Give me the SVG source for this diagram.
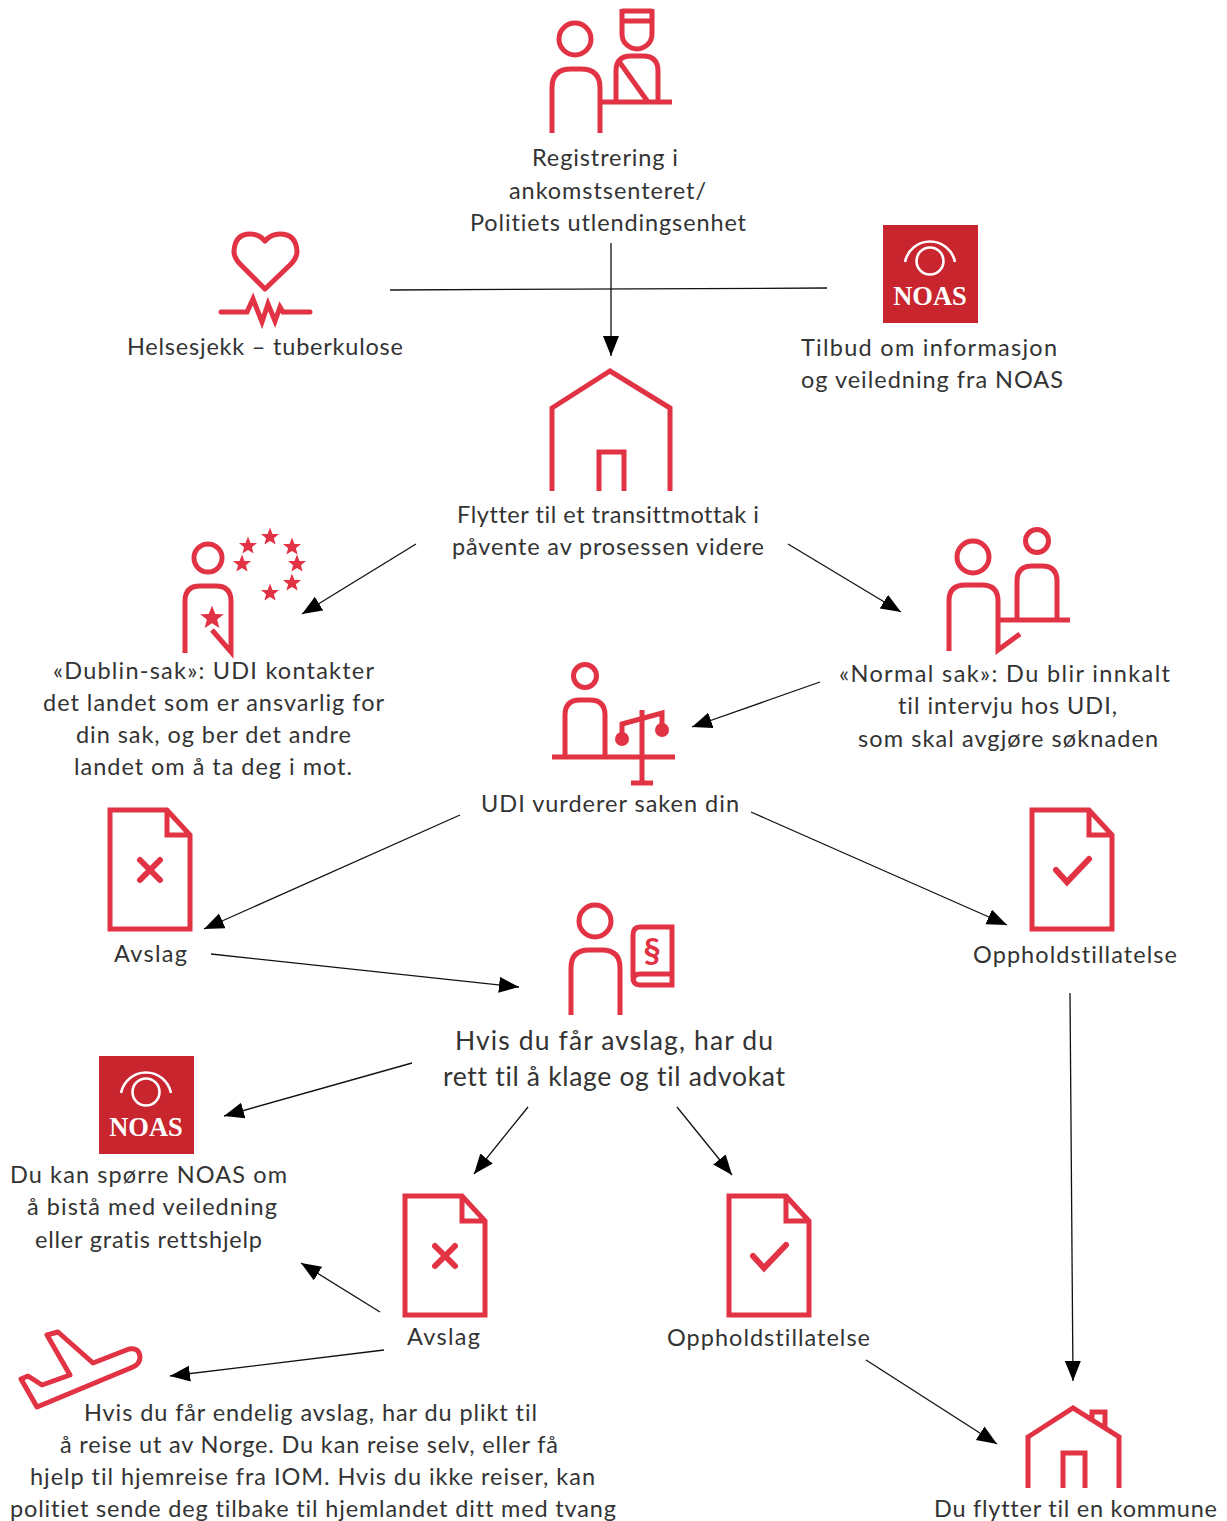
<svg xmlns="http://www.w3.org/2000/svg" width="1227" height="1521" viewBox="0 0 1227 1521">
<style>
text{font-family:Lato,"Open Sans",sans-serif;font-size:23.500px;fill:#333;font-variant-ligatures:none}
.big{font-size:26.500px}
.i{fill:none;stroke:#e23345;stroke-width:5}
.m{stroke-width:6;stroke-linecap:round}
.f{fill:#e23345}
.c{fill:none;stroke:#111;stroke-width:1.300;marker-end:url(#a)}
.noas{fill:#c8252f}
.na{fill:none;stroke:#fff;stroke-width:2.600}
.nt{font-family:"Liberation Serif",serif;font-weight:700;font-size:26.500px;fill:#fff;text-anchor:middle}
</style>
<defs>
<marker id="a" markerUnits="userSpaceOnUse" markerWidth="22" markerHeight="18" refX="20" refY="8" orient="auto"><path d="M0 0L20 8L0 16z" fill="#000"/></marker>
<polygon id="s" points="0,-10 2.600,-3.200 9.500,-3.100 4.100,1.200 5.900,8 0,4.100 -5.900,8 -4.100,1.200 -9.500,-3.100 -2.600,-3.200"/>
<g id="noas"><rect x="883" y="225" width="95" height="98" class="noas"/><circle cx="930" cy="261" r="13.500" class="na"/><path d="M905 262A25.500 25.500 0 0 1 955 262" class="na"/><text x="930" y="305" class="nt">NOAS</text></g>
<g id="dx"><path d="M110 810H167L190 835V929H110Z M167 810V835H190" class="i"/><path d="M140 860L160 880M160 860L140 880" class="i m"/></g>
<g id="dc"><path d="M1032 810H1089L1112 835V929H1032Z M1089 810V835H1112" class="i"/><path d="M1056 870L1067 882L1089 859" class="i m"/></g>
</defs>
<g id="connectors">
<path d="M390 290L827 288" fill="none" stroke="#111" stroke-width="1.300"/>
<path class="c" d="M611 243V356"/>
<path class="c" d="M416 544L302 614"/>
<path class="c" d="M788 544L901 612"/>
<path class="c" d="M820 682L692 727"/>
<path class="c" d="M460 815L204 929"/>
<path class="c" d="M751 812L1007 925"/>
<path class="c" d="M211 954L519 987"/>
<path class="c" d="M1070 993L1073 1381"/>
<path class="c" d="M412 1063L224 1116"/>
<path class="c" d="M528 1107L474 1174"/>
<path class="c" d="M677 1107L732 1175"/>
<path class="c" d="M380 1312L301 1263"/>
<path class="c" d="M384 1350L170 1376"/>
<path class="c" d="M866 1360L997 1444"/>
</g>
<g id="registrering">
<circle cx="575" cy="39" r="16" class="i"/>
<path d="M552 133V88Q552 69 571 69H581Q600 69 600 88V133" class="i"/>
<path d="M622 9V34A15 15 0 0 0 652 34V9M622 11H652M622 21H652" class="i"/>
<path d="M616 102V71Q616 56 631 56H643Q658 56 658 71V102M600 102H672M618 60L648 102" class="i"/>
<text x="532" y="166" textLength="146">Registrering i</text>
<text x="509" y="199" textLength="197">ankomstsenteret/</text>
<text x="470" y="231" textLength="276">Politiets utlendingsenhet</text>
</g>
<g id="helsesjekk">
<path d="M265 289L240 264Q234 258 234 251Q235 234 250 234Q259 234 265 241Q271 234 280 234Q296 234 297 251Q297 258 291 264Z" class="i" stroke-linejoin="round"/>
<path d="M221 312H247L253 299L262 322L268 304L275 321L280 307L283 312H310" class="i" stroke-linecap="round"/>
<text x="127" y="355" textLength="276">Helsesjekk – tuberkulose</text>
</g>
<g id="noas1">
<use href="#noas"/>
<text x="801" y="356" textLength="256">Tilbud om informasjon</text>
<text x="801" y="388" textLength="262">og veiledning fra NOAS</text>
</g>
<g id="transitt">
<path d="M552 491V408L610 371L670 408V491M599 491V452H624V491" class="i"/>
<text x="457" y="523" textLength="302">Flytter til et transittmottak i</text>
<text x="452" y="555" textLength="312">påvente av prosessen videre</text>
</g>
<g id="dublin">
<circle cx="208" cy="558" r="14" class="i"/>
<path d="M185 653V601Q185 586 200 586H216Q231 586 231 601V652L212 630" class="i"/>
<g class="f">
<use href="#s" transform="translate(212 618) scale(1.250)"/>
<use href="#s" transform="translate(270 537) scale(.95)"/>
<use href="#s" transform="translate(292 547) scale(.95)"/>
<use href="#s" transform="translate(297 564) scale(.95)"/>
<use href="#s" transform="translate(292 583) scale(.95)"/>
<use href="#s" transform="translate(270 593) scale(.95)"/>
<use href="#s" transform="translate(248 546) scale(.95)"/>
<use href="#s" transform="translate(242 564) scale(.95)"/>
</g>
<text x="53" y="679" textLength="321">«Dublin-sak»: UDI kontakter</text>
<text x="43" y="711" textLength="341">det landet som er ansvarlig for</text>
<text x="76" y="743" textLength="275">din sak, og ber det andre</text>
<text x="74" y="775" textLength="278">landet om å ta deg i mot.</text>
</g>
<g id="normal">
<circle cx="973" cy="557" r="16" class="i"/>
<circle cx="1037" cy="541" r="11.500" class="i"/>
<path d="M949 651V601Q949 585 965 585H982Q998 585 998 601V650L1020 634" class="i"/>
<path d="M1017 620V581Q1017 566 1032 566H1042Q1057 566 1057 581V620M998 620H1070" class="i"/>
<text x="839" y="682" textLength="331">«Normal sak»: Du blir innkalt</text>
<text x="898" y="714" textLength="219">til intervju hos UDI,</text>
<text x="858" y="747" textLength="300">som skal avgjøre søknaden</text>
</g>
<g id="udi">
<circle cx="585" cy="676" r="11.500" class="i"/>
<path d="M565 757V715Q565 700 580 700H590Q605 700 605 715V757M552 757H675M642 710V783M631 783H653M622 734V724L662 713V727" class="i"/>
<circle cx="622" cy="739" r="7" class="f"/><circle cx="662" cy="730" r="7" class="f"/>
<text x="481" y="812" textLength="258">UDI vurderer saken din</text>
</g>
<g id="avslag1">
<use href="#dx"/>
<text x="114" y="962" textLength="73">Avslag</text>
</g>
<g id="opphold1">
<use href="#dc"/>
<text x="973" y="963" textLength="204">Oppholdstillatelse</text>
</g>
<g id="klage">
<circle cx="595" cy="921" r="16" class="i"/>
<path d="M571 1015V968Q571 950 589 950H602Q620 950 620 968V1015" class="i"/>
<path d="M672 927H640Q633 927 633 935V977Q633 985 640 985H672ZM633 981Q633 974 640 974H672" class="i"/>
<text x="652" y="963" style="font-size:35px;font-weight:700;fill:#e23345;text-anchor:middle">§</text>
<text x="455" y="1050" class="big" textLength="318">Hvis du får avslag, har du</text>
<text x="443" y="1086" class="big" textLength="342">rett til å klage og til advokat</text>
</g>
<g id="noas2">
<use href="#noas" transform="translate(-784 831)"/>
<text x="10" y="1183" textLength="277">Du kan spørre NOAS om</text>
<text x="27" y="1215" textLength="250">å bistå med veiledning</text>
<text x="35" y="1248" textLength="227">eller gratis rettshjelp</text>
</g>
<g id="avslag2">
<use href="#dx" transform="translate(295 386)"/>
<text x="407" y="1345" textLength="73">Avslag</text>
</g>
<g id="opphold2">
<use href="#dc" transform="translate(-303 386)"/>
<text x="667" y="1346" textLength="203">Oppholdstillatelse</text>
</g>
<g id="utreise">
<path d="M21 1379L28 1376L42 1385L70 1375L47 1335L58 1332L93 1363L129 1349Q139 1347 140 1357Q140 1364 133 1367L37 1407Z" class="i" stroke-linejoin="round"/>
<text x="84" y="1421" textLength="453">Hvis du får endelig avslag, har du plikt til</text>
<text x="60" y="1453" textLength="498">å reise ut av Norge. Du kan reise selv, eller få</text>
<text x="30" y="1485" textLength="565">hjelp til hjemreise fra IOM. Hvis du ikke reiser, kan</text>
<text x="10" y="1517" textLength="606">politiet sende deg tilbake til hjemlandet ditt med tvang</text>
</g>
<g id="kommune">
<path d="M1028 1488V1437L1073 1408L1119 1437V1488M1063 1488V1453H1085V1488M1092 1420V1412H1105V1429" class="i"/>
<text x="934" y="1517" textLength="283">Du flytter til en kommune</text>
</g>
</svg>
